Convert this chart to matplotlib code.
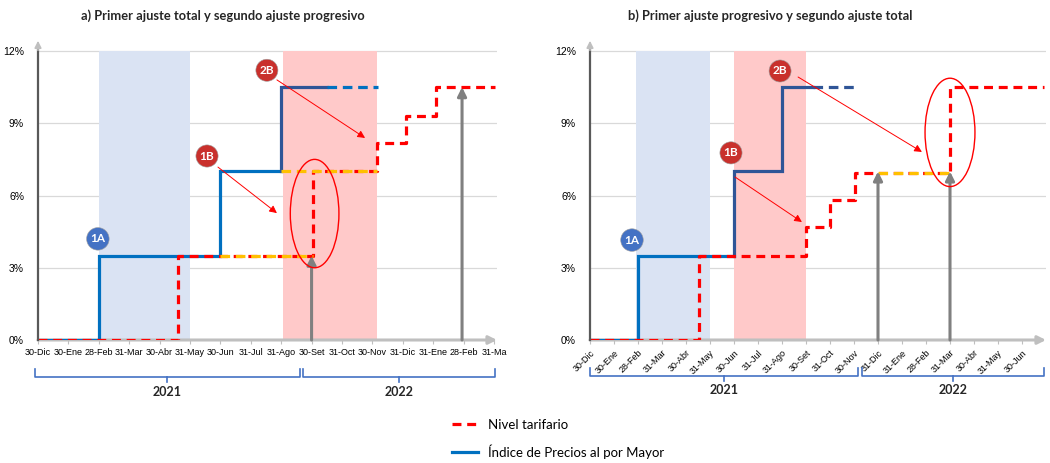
import matplotlib
matplotlib.use("Agg")
import matplotlib.pyplot as plt
from matplotlib.patches import Ellipse
from matplotlib.lines import Line2D

# ---------------- data ----------------
cats_a = ['30-Dic', '30-Ene', '28-Feb', '31-Mar', '30-Abr', '31-May', '30-Jun', '31-Jul',
          '31-Ago', '30-Set', '31-Oct', '30-Nov', '31-Dic', '31-Ene', '28-Feb', '31-Ma']
cats_b = ['30-Dic', '30-Ene', '28-Feb', '31-Mar', '30-Abr', '31-May', '30-Jun', '31-Jul',
          '31-Ago', '30-Set', '31-Oct', '30-Nov', '31-Dic', '31-Ene', '28-Feb', '31-Mar',
          '30-Abr', '31-May', '30-Jun']
yticks = [0, 3, 6, 9, 12]

# panel a
ipm_a_x = [0, 2, 6, 8]
ipm_a_y = [0, 3.5, 7.0, 10.5]
ipm_a_end = 9.5            # end of solid part of last step
ipm_a_proj = [9.5, 11.2]   # dashed projection at last level
tar_a_x = [0, 4.6, 9.05, 11.15, 12.1, 13.1, 15.05]
tar_a_y = [0, 3.5, 7.0, 8.2, 9.3, 10.5, 10.5]
ref_a = [(6, 9.05, 3.5), (8, 11.15, 7.0)]          # (x0, x1, level) orange reference
arr_a_x = [9.0, 13.95]
arr_a_y = [3.5, 10.5]
shade_blue_a = (2, 5)
shade_red_a = (8.05, 11.15)
ell_a = (9.1, 5.25, 1.6, 4.5)
lab_a = [('1A', 1.97, 4.2, 'b'), ('1B', 5.56, 7.64, 'r'), ('2B', 7.53, 11.2, 'r')]
thin_a = [((5.92, 7.18), (7.86, 5.27)), ((7.86, 10.8), (10.76, 8.39))]
years_a = [('2021', -0.1, 8.62), ('2022', 8.72, 15.03)]

# panel b
ipm_b_x = [0, 2, 6, 8]
ipm_b_y = [0, 3.5, 7.0, 10.5]
ipm_b_end = 9.3
ipm_b_proj = [9.3, 11.1]
tar_b_x = [0, 4.55, 9.0, 10.0, 11.05, 15.0, 18.9]
tar_b_y = [0, 3.5, 4.7, 5.8, 6.95, 10.5, 10.5]
ref_b = [(12, 15.0, 6.95)]
arr_b_x = [12.0, 15.0]
arr_b_y = [7.0, 7.0]
shade_blue_b = (1.9, 5.0)
shade_red_b = (6.0, 9.0)
ell_b = (15.0, 8.62, 2.08, 4.5)
lab_b = [('1A', 1.75, 4.15, 'b'), ('1B', 5.875, 7.77, 'r'), ('2B', 7.92, 11.17, 'r')]
thin_b = [((6.04, 6.77), (8.83, 4.9)), ((8.67, 10.92), (13.83, 7.81))]
years_b = [('2021', 0.0, 11.17), ('2022', 11.33, 18.9)]

titles = ['a) Primer ajuste total y segundo ajuste progresivo',
          'b) Primer ajuste progresivo y segundo ajuste total']
legend_labels = ['Nivel tarifario', 'Índice de Precios al por Mayor']

# ---------------- style ----------------
RED = '#FF0000'
BLUE = '#0070C0'
NAVY = '#2F5597'
ORANGE = '#FFC000'
GRAY = '#808080'
RED_DASH = (0, (2.8, 1.8))
TXT = ['Lato', 'DejaVu Sans']
TICKF = ['Liberation Sans Narrow', 'Liberation Sans', 'DejaVu Sans']

W, H = 1050, 463
fig = plt.figure(figsize=(W / 100, H / 100), dpi=100)


def px_axes(l, r, b, t):
    return fig.add_axes([l / W, 1 - b / H, (r - l) / W, (b - t) / H])


axA = px_axes(38, 497, 340, 38)
axB = px_axes(590, 1046, 340, 38)


def setup(ax, cats, xmax, rotate):
    ax.set_xlim(0, xmax)
    ax.set_ylim(0, 12.54)
    for s in ax.spines.values():
        s.set_visible(False)
    ax.set_yticks(yticks)
    ax.set_yticklabels([f'{v}%' for v in yticks], family=TICKF, fontsize=7.5)
    ax.tick_params(axis='y', length=0, pad=10)
    ax.set_xticks(range(len(cats)))
    if rotate:
        ax.set_xticklabels(cats, rotation=45, ha='right', rotation_mode='anchor',
                           family=TICKF, fontsize=6.5)
    else:
        ax.set_xticklabels(cats, family=TICKF, fontsize=6.5)
    ax.tick_params(axis='x', length=3, color='#BFBFBF', pad=3)
    for v in yticks[1:]:
        ax.axhline(v, color='#D9D9D9', lw=0.9, zorder=0)
    # axes with arrows
    ax.plot([0, 0], [0, 0.965], transform=ax.transAxes, color='#595959', lw=1.6,
            clip_on=False, zorder=6)
    ax.annotate('', xy=(0, 1.0), xytext=(0, 0.95), xycoords='axes fraction',
                arrowprops=dict(arrowstyle='-|>', color='#BFBFBF', lw=1.2, mutation_scale=10),
                annotation_clip=False, zorder=6)
    ax.annotate('', xy=(1.0, 0), xytext=(0, 0), xycoords='axes fraction',
                arrowprops=dict(arrowstyle='-|>', color='#BFBFBF', lw=2.2, mutation_scale=12,
                                shrinkA=0, shrinkB=0),
                annotation_clip=False, zorder=1)


def steps(x, y, xend):
    xs, ys = [x[0]], [y[0]]
    for i in range(1, len(x)):
        xs += [x[i], x[i]]
        ys += [y[i - 1], y[i]]
    xs.append(xend)
    ys.append(y[-1])
    return xs, ys


def draw(ax, ipm_x, ipm_y, ipm_end, ipm_proj, tar_x, tar_y, refs, arr_x, arr_y,
         sb, sr, ell, labs, thins, years, navy_from, brace_y, year_y):
    ax.axvspan(*sb, ymax=12 / 12.54, color='#DAE3F3', zorder=0.5, lw=0)
    ax.axvspan(*sr, ymax=12 / 12.54, color='#FFC9C9', zorder=0.5, lw=0)
    # IPM
    xs, ys = steps(ipm_x, ipm_y, ipm_end)
    k = navy_from
    ax.plot(xs[:k + 1], ys[:k + 1], color=BLUE, lw=2.3, zorder=3, solid_joinstyle='miter')
    ax.plot(xs[k:], ys[k:], color=NAVY, lw=2.3, zorder=3, solid_joinstyle='miter')
    ax.plot(ipm_proj, [ipm_y[-1]] * 2, color=BLUE if navy_from > 3 else NAVY, lw=2.3,
            ls=(0, (3.0, 1.8)), zorder=3)
    # orange reference levels
    for x0, x1, lv in refs:
        ax.plot([x0, x1], [lv, lv], color=ORANGE, lw=2.3, ls=(0, (3.0, 1.8)), zorder=4)
    # tariff
    xs, ys = steps(tar_x[:-1], tar_y[:-1], tar_x[-1])
    ax.plot(xs, ys, color=RED, lw=2.3, ls=RED_DASH, zorder=3.5)
    # gray arrows
    for x, y in zip(arr_x, arr_y):
        ax.annotate('', xy=(x, y), xytext=(x, 0),
                    arrowprops=dict(arrowstyle='-|>', color=GRAY, lw=2.2, mutation_scale=13,
                                    shrinkA=0, shrinkB=0), zorder=5)
    # ellipse
    ax.add_patch(Ellipse((ell[0], ell[1]), ell[2], ell[3], fc='none', ec=RED, lw=1.0,
                         zorder=6))
    # thin arrows
    for (p0, p1) in thins:
        ax.annotate('', xy=p1, xytext=p0,
                    arrowprops=dict(arrowstyle='-|>', color=RED, lw=0.7, mutation_scale=11,
                                    shrinkA=0, shrinkB=0), zorder=6)
    # circle labels
    for t, x, y, c in labs:
        fc = '#4472C4' if c == 'b' else '#C9302C'
        ax.text(x, y, t, color='white', fontsize=8.5, fontweight='bold', family=TXT,
                ha='center', va='center', zorder=7,
                bbox=dict(boxstyle='circle,pad=0.32', fc=fc, ec='#A0A0A0', lw=0.4))
    # year braces
    tr = ax.get_xaxis_transform()
    for t, x0, x1 in years:
        xm = (x0 + x1) / 2
        ax.plot([x0, x0, x1, x1], [brace_y + 0.025, brace_y, brace_y, brace_y + 0.025],
                transform=tr, color='#4472C4', lw=1.2, clip_on=False)
        ax.plot([xm, xm], [brace_y, brace_y - 0.018], transform=tr, color='#4472C4', lw=1.2,
                clip_on=False)
        ax.text(xm, year_y, t, transform=tr, ha='center', va='center', fontsize=9,
                fontweight='bold', family=TXT, color='#262626')


setup(axA, cats_a, 15.1, False)
setup(axB, cats_b, 19.0, True)

draw(axA, ipm_a_x, ipm_a_y, ipm_a_end, ipm_a_proj, tar_a_x, tar_a_y, ref_a, arr_a_x, arr_a_y,
     shade_blue_a, shade_red_a, ell_a, lab_a, thin_a, years_a, 5, -0.1225, -0.172)
draw(axB, ipm_b_x, ipm_b_y, ipm_b_end, ipm_b_proj, tar_b_x, tar_b_y, ref_b, arr_b_x, arr_b_y,
     shade_blue_b, shade_red_b, ell_b, lab_b, thin_b, years_b, 3, -0.119, -0.166)

fig.text(223 / W, 1 - 16 / H, titles[0], ha='center', va='center', fontsize=9.3,
         fontweight='bold', family=TXT, color='#262626')
fig.text(770 / W, 1 - 16 / H, titles[1], ha='center', va='center', fontsize=9.3,
         fontweight='bold', family=TXT, color='#262626')

handles = [Line2D([], [], color=RED, lw=2.3, ls=RED_DASH),
           Line2D([], [], color=BLUE, lw=2.3)]
fig.legend(handles, legend_labels, loc='upper left', bbox_to_anchor=(452 / W, 1 - 419 / H),
           frameon=False, prop={'family': TXT, 'size': 9.5}, labelspacing=1.0,
           handlelength=2.0, handletextpad=0.7, borderpad=0, borderaxespad=0)

fig.savefig('out.png', dpi=100, facecolor='white')
